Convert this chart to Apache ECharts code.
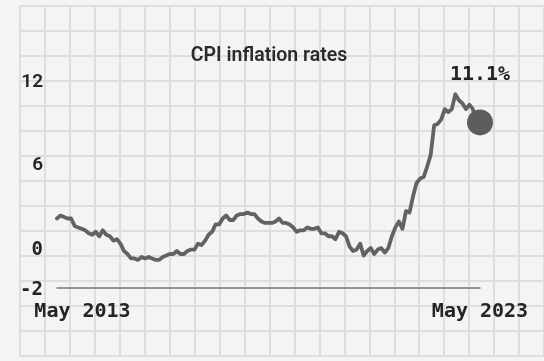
<!DOCTYPE html>
<html>
<head>
<meta charset="utf-8">
<script src="https://cdn.jsdelivr.net/npm/echarts@6/dist/echarts.min.js"></script>
<style>
html,body{margin:0;padding:0;background:#f4f4f5;}
#c{width:544px;height:361px;}
</style>
</head>
<body>
<div id="c"></div>
<script>
// ---- data ----
const TITLE = 'CPI inflation rates';
const PEAK_LABEL = '11.1%';
const MONTHS = ['Jan','Feb','Mar','Apr','May','Jun','Jul','Aug','Sep','Oct','Nov','Dec'];
const categories = [];
for (let y = 2013, m = 4; y < 2023 || (y === 2023 && m <= 4); m++) {
  if (m > 11) { m = 0; y++; }
  categories.push(MONTHS[m] + ' ' + y);
}
const cpi2013 = [2.7, 2.9, 2.8, 2.7, 2.7, 2.2, 2.1, 2.0];
const cpi2014 = [1.9, 1.7, 1.6, 1.8, 1.5, 1.9, 1.6, 1.5, 1.2, 1.3, 1.0, 0.5];
const cpi2015 = [0.3, 0.0, 0.0, -0.1, 0.1, 0.0, 0.1, 0.0, -0.1, -0.1, 0.1, 0.2];
const cpi2016 = [0.3, 0.3, 0.5, 0.3, 0.3, 0.5, 0.6, 0.6, 1.0, 0.9, 1.2, 1.6];
const cpi2017 = [1.8, 2.3, 2.3, 2.7, 2.9, 2.6, 2.6, 2.9, 3.0, 3.0, 3.1, 3.0];
const cpi2018 = [3.0, 2.7, 2.5, 2.4, 2.4, 2.4, 2.5, 2.7, 2.4, 2.4, 2.3, 2.1];
const cpi2019 = [1.8, 1.9, 1.9, 2.1, 2.0, 2.0, 2.1, 1.7, 1.7, 1.5, 1.5, 1.3];
const cpi2020 = [1.8, 1.7, 1.5, 0.8, 0.5, 0.6, 1.0, 0.2, 0.5, 0.7, 0.3, 0.6];
const cpi2021 = [0.7, 0.4, 0.7, 1.5, 2.1, 2.5, 2.0, 3.2, 3.1, 4.2, 5.1, 5.4];
const cpi2022 = [5.5, 6.2, 7.0, 9.0, 9.1, 9.4, 10.1, 9.9, 10.1, 11.1, 10.7, 10.5];
const cpi2023 = [10.1, 10.4, 10.1, 8.7, 8.7];
const cpiValues = [].concat(cpi2013, cpi2014, cpi2015, cpi2016, cpi2017, cpi2018,
                            cpi2019, cpi2020, cpi2021, cpi2022, cpi2023);
const DOT_VALUE = 9.2;
const X_TICK_LABELS = ['May 2013', 'May 2023'];
const Y_TICK_VALUES = [-2, 0, 6, 12];

// ---- chart ----
const MONO = '"DejaVu Sans Mono", monospace';
const SANS = 'Roboto, "Noto Sans", sans-serif';
const TXT = '#242424';
const chart = echarts.init(document.getElementById('c'), null, {renderer: 'canvas'});
const gridLine = {show: true, lineStyle: {color: '#dedede', width: 2}};
chart.setOption({
  backgroundColor: '#f4f4f5',
  animation: false,
  title: {
    text: TITLE, left: 264, top: 41, textAlign: 'center',
    textStyle: {fontFamily: SANS, fontWeight: 600, fontSize: 19.5, color: '#2b2b2b'}
  },
  grid: [
    {left: 57, right: 64, top: 81, bottom: 73},
    {left: 20, right: -1, top: 6, bottom: 5}
  ],
  xAxis: [
    {
      type: 'category', data: categories, boundaryGap: false, gridIndex: 0,
      axisLine: {onZero: false, lineStyle: {color: '#777', width: 1.5}},
      axisTick: {show: false},
      splitLine: {show: false},
      axisLabel: {
        interval: (i, v) => X_TICK_LABELS.indexOf(v) >= 0,
        margin: 14,
        formatter: v => v === X_TICK_LABELS[0] ? '{f|' + v + '}' : '{l|' + v + '}',
        rich: {
          f: {fontFamily: MONO, fontWeight: 'bold', fontSize: 20, color: TXT, padding: [0, 0, 0, 51]},
          l: {fontFamily: MONO, fontWeight: 'bold', fontSize: 20, color: TXT}
        }
      }
    },
    {
      type: 'value', gridIndex: 1, min: 0, max: 525, interval: 25,
      axisLine: {show: false}, axisTick: {show: false}, axisLabel: {show: false},
      splitLine: gridLine
    }
  ],
  yAxis: [
    {
      type: 'value', gridIndex: 0, min: -2, max: 12, interval: 2,
      axisLine: {show: false}, axisTick: {show: false}, splitLine: {show: false},
      axisLabel: {
        margin: 14,
        formatter: v => {
          if (Y_TICK_VALUES.indexOf(v) < 0) return '';
          if (v === 12) return '{s|' + v + '}';
          if (v === 6) return '{s6|' + v + '}';
          if (v === 0) return '{m0|' + v + '}';
          return '{m|' + v + '}';
        },
        rich: {
          s: {fontFamily: SANS, fontWeight: 600, fontSize: 19, color: TXT, padding: [3, 0, 0, 0]},
          s6: {fontFamily: SANS, fontWeight: 600, fontSize: 19, color: TXT, padding: [0, 0, 9, 0]},
          m0: {fontFamily: MONO, fontWeight: 'bold', fontSize: 19, color: TXT, padding: [0, 0, 17, 0]},
          m: {fontFamily: MONO, fontWeight: 'bold', fontSize: 19, color: TXT, padding: [4, 0, 0, 0]}
        }
      }
    },
    {
      type: 'value', gridIndex: 1, min: 0, max: 350, interval: 25,
      axisLine: {show: false}, axisTick: {show: false}, axisLabel: {show: false},
      splitLine: gridLine
    }
  ],
  series: [
    {
      type: 'line', xAxisIndex: 0, yAxisIndex: 0, data: cpiValues,
      showSymbol: false, smooth: false,
      lineStyle: {color: '#626262', width: 3.8, join: 'round', cap: 'round'},
      z: 3
    },
    {
      type: 'scatter', xAxisIndex: 0, yAxisIndex: 0,
      data: [[categories[categories.length - 1], DOT_VALUE]],
      symbolSize: 26, itemStyle: {color: '#5d5d5d', opacity: 1},
      label: {
        show: true, position: 'top', distance: 25, formatter: PEAK_LABEL,
        fontFamily: MONO, fontWeight: 'bold', fontSize: 20, color: TXT
      },
      z: 4
    }
  ]
});
</script>
</body>
</html>
